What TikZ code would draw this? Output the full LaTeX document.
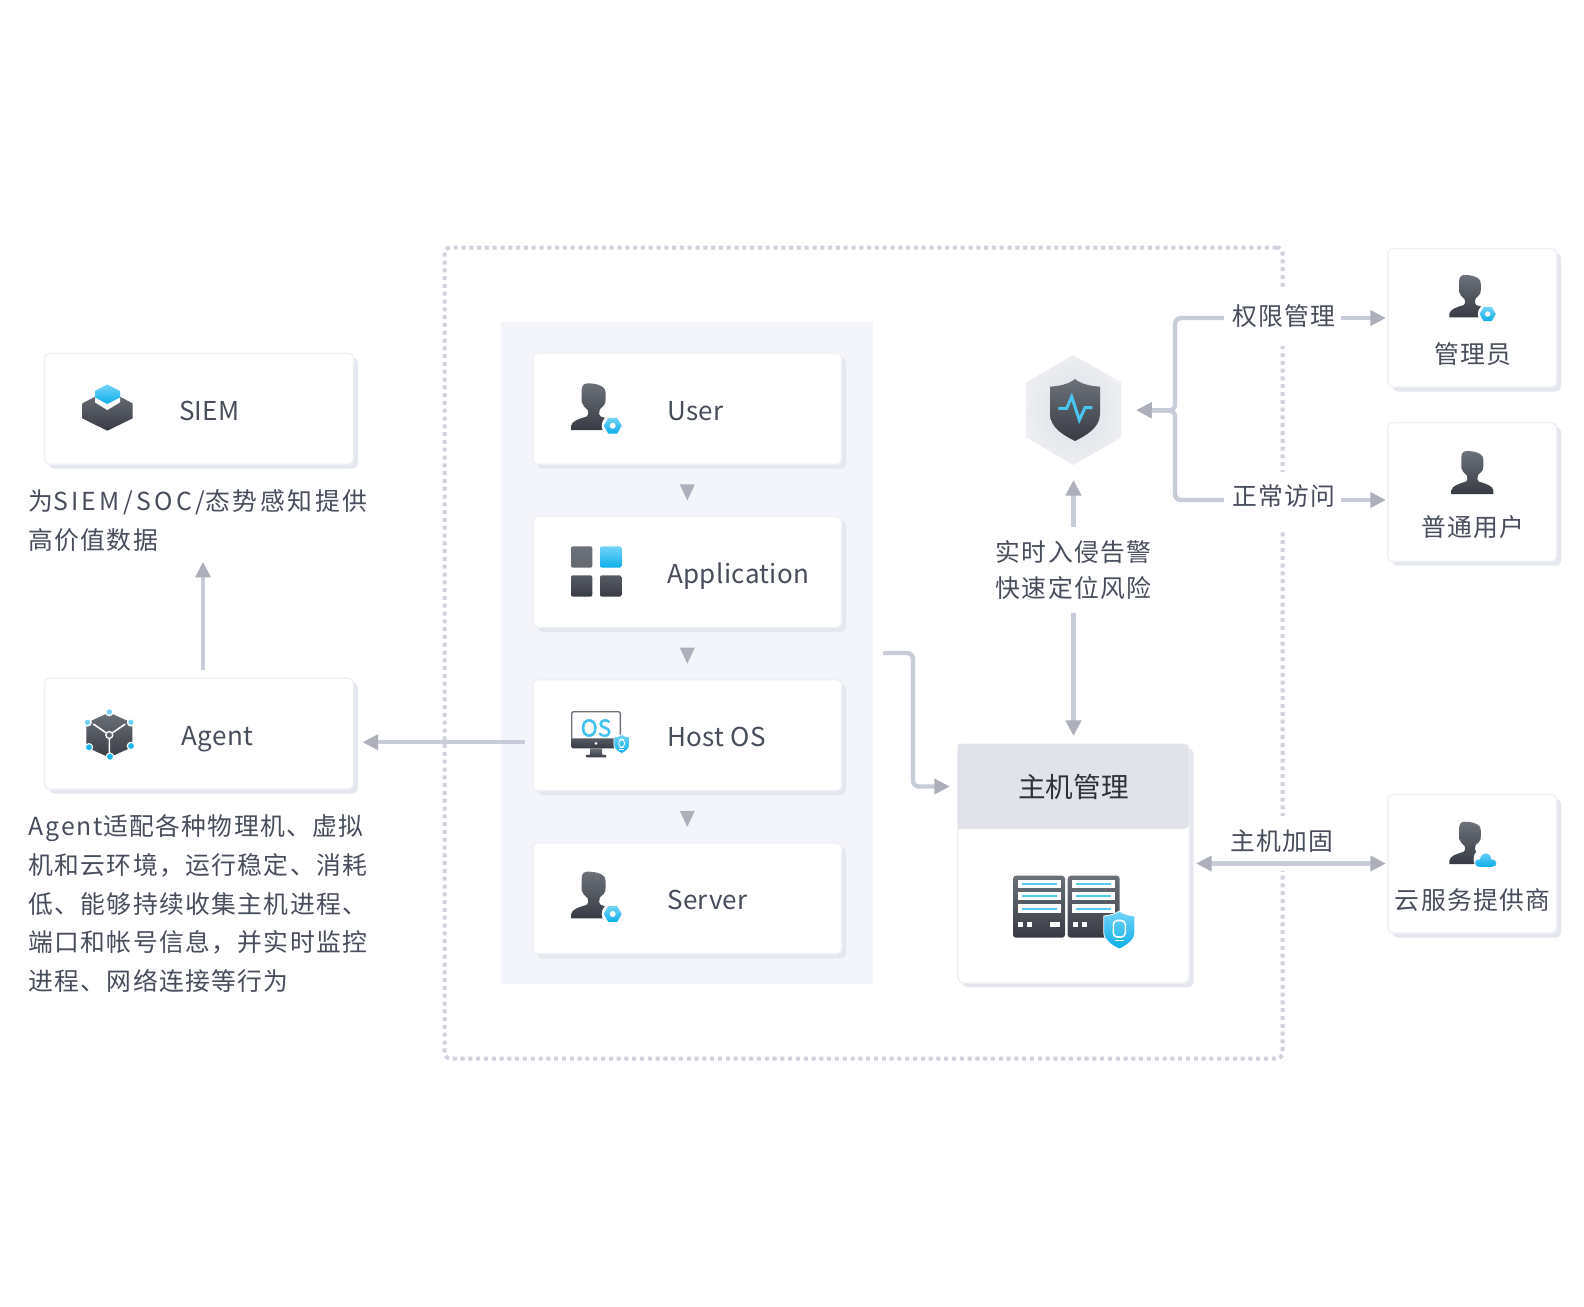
\documentclass[tikz,border=0pt]{standalone}
\usepackage{fontspec}
\setmainfont{Noto Sans CJK SC}
\newfontfamily\spacedfont[LetterSpace=1.5]{Noto Sans CJK SC}
\newfontfamily\bodyfont[LetterSpace=5.5]{Noto Sans CJK SC}
\newfontfamily\agentfont[LetterSpace=8]{Noto Sans CJK SC}
\newfontfamily\siemfont[LetterSpace=13.6]{Noto Sans CJK SC}
\newfontfamily\widecjkfont[LetterSpace=10.5]{Noto Sans CJK SC}
\newfontfamily\osfont[FakeBold=1.6]{Noto Sans CJK SC}
\usetikzlibrary{positioning,arrows.meta,shapes.geometric,shadows}
\definecolor{textdark}{HTML}{484D5C}
\definecolor{textblack}{HTML}{2E3138}
\definecolor{linegray}{HTML}{C8CBD8}
\definecolor{tipgray}{HTML}{ADAFBB}
\definecolor{framegray}{HTML}{D0D2DE}
\definecolor{panelgray}{HTML}{F4F5FA}
\definecolor{cardedge}{HTML}{EFF0F6}
\definecolor{cardshadow}{HTML}{E5E7EF}
\definecolor{headgray}{HTML}{E2E3E9}
\definecolor{hexinner}{HTML}{DDDFE6}
\definecolor{hexouter}{HTML}{EDEEF2}
\definecolor{icontop}{HTML}{6C7179}
\definecolor{iconbot}{HTML}{383B43}
\definecolor{bluetop}{HTML}{72D3F8}
\definecolor{bluebot}{HTML}{0CAFE9}
\tikzset{
  card/.style={draw=cardedge,line width=.7pt,fill=white,rounded corners=2.5pt,outer sep=0pt,inner sep=0pt,
    general shadow={fill=cardshadow,shadow xshift=2.2pt,shadow yshift=-2.2pt}},
  widecard/.style={card,minimum width=154.5pt,minimum height=55.5pt},
  sidecard/.style={card,minimum width=84.4pt,minimum height=69.3pt},
  cardtext/.style={anchor=west,inner sep=0pt,text height=11.5pt,text depth=0pt,text=textdark,font=\fontsize{13}{16}\spacedfont},
  sidetext/.style={inner sep=0pt,text=textdark,font=\fontsize{12.4}{16}\bodyfont},
  infotext/.style={align=left,anchor=west,inner sep=0pt,text=textdark,font=\fontsize{12.4}{19.4}\bodyfont},
  tag/.style={fill=white,inner xsep=4pt,inner ysep=0pt,text=textdark,font=\fontsize{12.4}{16}\bodyfont},
  flow/.style={line width=2.2pt,draw=linegray,-{Triangle[length=7.8pt,width=7.5pt,color=tipgray]}},
  bothflow/.style={flow,{Triangle[length=7.8pt,width=7.5pt,color=tipgray]}-{Triangle[length=7.8pt,width=7.5pt,color=tipgray]}},
  downtri/.style={isosceles triangle,isosceles triangle stretches,shape border rotate=-90,fill=tipgray,
    minimum width=7.5pt,minimum height=8pt,inner sep=0pt,outer sep=0pt},
  darkfill/.style={top color=icontop,bottom color=iconbot,draw=none},
  bluefill/.style={top color=bluetop,bottom color=bluebot,draw=none},
  guardline/.style={line width=.8pt},
  person/.pic={
    \path[darkfill] (-22.7,0) -- (-22.7,4) .. controls (-22,9) and (-15,11) .. (-7,13.5)
      .. controls (-5,14.5) and (-5,17) .. (-6,20) .. controls (-9,23) and (-11.5,25) .. (-12,28)
      -- (-12,40) .. controls (-12,44) and (-10,46.7) .. (-6,46.7) .. controls (0,46.7) and (8,45.5) .. (11,41)
      .. controls (12.5,38) and (12,30) .. (11.5,27) .. controls (10,23) and (6,22) .. (6,20)
      .. controls (5,17) and (5,14.5) .. (7,13.5) .. controls (15,11) and (22,9) .. (22.7,4)
      -- (22.7,0) -- cycle;
  },
  nutbadge/.pic={
    \fill[white] (0,0) circle (11);
    \path[bluefill] (0:9) -- (60:9) -- (120:9) -- (180:9) -- (240:9) -- (300:9) -- cycle;
    \fill[white] (0,0) circle (3);
  },
  cloudbadge/.pic={
    \fill[white] (0,0) circle (12.5);
    \path[bluefill] (-6,-7.5) .. controls (-13,-7.5) and (-12,1) .. (-6,0) .. controls (-5,8) and (5,8) .. (5,0)
      .. controls (12,0) and (12,-7.5) .. (6,-7.5) -- cycle;
  },
  guard/.pic={
    \path[bluefill,draw=white,line width=.4pt] (0,19) .. controls (-4,16) and (-10,14.5) .. (-15.5,14) -- (-15.5,-3)
      .. controls (-15.5,-10) and (-7,-16) .. (0,-19) .. controls (7,-16) and (15.5,-10) .. (15.5,-3)
      -- (15.5,14) .. controls (10,14.5) and (4,16) .. (0,19) -- cycle;
    \draw[white,guardline,rounded corners=2pt] (-6,9.5) rectangle (6,-7);
    \draw[white,guardline] (-4.5,-10.5) -- (4.5,-10.5);
  },
  rack/.pic={
    \path[darkfill,rounded corners=1.5pt] (0,0) rectangle (52,-62);
    \foreach \rowy in {4,16.3,28.7}{
      \fill[white] (4.7,-\rowy) rectangle (47.7,-\rowy-8.3);
      \fill[bluetop!70!bluebot] (8.7,-\rowy-3.2) rectangle (43.7,-\rowy-5.2);
    }
    \fill[white] (5.3,-46.7) rectangle (10.3,-51.7);
    \fill[white] (14,-46.7) rectangle (19,-51.7);
    \fill[white] (37,-46.7) rectangle (47,-51.7);
  },
  siemicon/.pic={
    \path[darkfill] (-25,3.3) -- (-12.3,10) -- (0,16) -- (12.7,10) -- (25.3,3.3) -- (25.3,-11.7) -- (0,-24) -- (-25,-11.7) -- cycle;
    \fill[white] (-12.3,11.7) -- (0,18.3) -- (12.7,11.7) -- (12.7,4.3) -- (0,-3.3) -- (-12.3,4.3) -- cycle;
    \path[bluefill] (0,22.3) -- (12.7,15.7) -- (12.7,9.3) -- (0,2.7) -- (-12.3,9.3) -- (-12.3,15.7) -- cycle;
  },
  agenticon/.pic={
    \path[darkfill] (0,22.5) -- (23,12) -- (23,-12) -- (0,-22.5) -- (-23,-12) -- (-23,12) -- cycle;
    \foreach \dotx/\doty in {0/23,-21.7/12.7,21.7/12.7,-20.3/-12.3,21.7/-11,.7/-21.7}
      \fill[white] (\dotx,\doty) circle (4.3);
    \draw[white,line width=.8pt] (0,0) -- (-16,11) (0,0) -- (16,11) (0,0) -- (0,-18);
    \fill[white] (0,0) circle (4.2);
    \fill[icontop!70!iconbot] (0,0) circle (2.6);
    \foreach \dotx/\doty in {0/23,-21.7/12.7,21.7/12.7}
      \fill[bluetop] (\dotx,\doty) circle (2.7);
    \foreach \dotx/\doty in {-20.3/-12.3,21.7/-11,.7/-21.7}
      \fill[bluebot!85!bluetop] (\dotx,\doty) circle (2.9);
  },
  appicon/.pic={
    \path[top color=icontop,bottom color=icontop!85!iconbot,rounded corners=1pt] (0,0) rectangle (21.3,-21.4);
    \path[bluefill,rounded corners=1pt] (29,0) rectangle (50.3,-21.4);
    \path[top color=icontop!60!iconbot,bottom color=iconbot,rounded corners=1pt] (0,-29) rectangle (21.3,-50.4);
    \path[top color=icontop!60!iconbot,bottom color=iconbot,rounded corners=1pt] (29,-29) rectangle (50.3,-50.4);
  },
  osicon/.pic={
    \draw[icontop,line width=.7pt,rounded corners=1pt] (.7,-.7) rectangle (49.3,-30);
    \path[top color=icontop!55!iconbot,bottom color=iconbot,rounded corners=.8pt] (0,-27.3) rectangle (50,-37.3);
    \fill[white] (25,-32.3) circle (1.5);
    \path[darkfill] (19,-37.3) -- (31,-37.3) -- (31,-43.5) -- (35,-44) -- (35,-46.3) -- (15.7,-46.3) -- (15.7,-44) -- (19,-43.5) -- cycle;
    \node[inner sep=0pt,text=bluetop!50!bluebot,font=\fontsize{11.5}{14}\osfont] (ostext) at (25,-17) {OS};
  }
}
\begin{document}
\begin{tikzpicture}[x=.5pt,y=.5pt]
\useasboundingbox (0,0) rectangle (1584,-1306);
% dotted frame
\node[draw=framegray,dash pattern=on 2pt off 1.9pt,line width=2pt,rounded corners=3pt,minimum width=419pt,minimum height=405.5pt,inner sep=0pt] (frame) at (863.7,-653) {};
% left column
\node[widecard] (siem) at (199,-408.7) {};
\node[cardtext] (siemtext) at ([xshift=67.1pt]siem.west) {SIEM};
\node[widecard] (agent) at (199,-733.6) {};
\node[cardtext] (agenttext) at ([xshift=68.4pt]agent.west) {Agent};
\node[infotext] (siemnote) at (28,-520.5) {为{\siemfont SIEM/SOC/}{\widecjkfont 态势感知提供}\\高价值数据};
\node[infotext] (agentnote) at (28,-903.6) {{\agentfont Agent}适配各种物理机、虚拟\\机和云环境，运行稳定、消耗\\低、能够持续收集主机进程、\\端口和帐号信息，并实时监控\\进程、网络连接等行为};
% middle stack
\node[fill=panelgray,minimum width=186pt,minimum height=331pt,inner sep=0pt,outer sep=0pt] (panel) at (687,-653) {};
\node[widecard] (user) at (687.3,-408.8) {};
\node[widecard,below=26.1pt of user] (app) {};
\node[widecard,below=26.1pt of app] (host) {};
\node[widecard,below=26.1pt of host] (server) {};
\node[cardtext] (usertext) at ([xshift=67pt]user.west) {User};
\node[cardtext] (apptext) at ([xshift=67pt]app.west) {Application};
\node[cardtext] (hosttext) at ([xshift=67pt]host.west) {Host OS};
\node[cardtext] (servertext) at ([xshift=67pt]server.west) {Server};
\path (user.south) -- (app.north) node[midway,downtri,yshift=.6pt] (tria) {};
\path (app.south) -- (host.north) node[midway,downtri,yshift=.6pt] (trib) {};
\path (host.south) -- (server.north) node[midway,downtri,yshift=.6pt] (tric) {};
% host management
\node[card,minimum width=115.6pt,minimum height=119.5pt] (mgmt) at (1073.5,-863.5) {};
\fill[headgray,rounded corners=2.5pt] (mgmt.north west) -- (mgmt.north east) -- ([yshift=-42.5pt]mgmt.north east) [sharp corners] -- ([yshift=-42.5pt]mgmt.north west) -- cycle;
\node[inner sep=0pt,text=textblack,font=\fontsize{13.8}{16}\selectfont] (mgmttitle) at (1073.5,-786.5) {主机管理};
% shield and its notes
\node[regular polygon,regular polygon sides=6,regular polygon rotate=30,minimum size=55pt,inner sep=0pt,outer sep=0pt,inner color=hexinner,outer color=hexouter] (shield) at (1073.5,-410) {};
\node[align=center,inner sep=0pt,minimum height=43pt,text=textdark,font=\fontsize{12.4}{17.6}\bodyfont] (alert) at (1073.5,-570) {实时入侵告警\\快速定位风险};
% right column
\node[sidecard] (admin) at (1472.3,-317.8) {};
\node[sidecard] (normal) at (1472.3,-492) {};
\node[sidecard] (cloud) at (1472.3,-863.8) {};
\node[sidetext] (admintext) at (1472.7,-354) {管理员};
\node[sidetext] (normaltext) at (1472.7,-527) {普通用户};
\node[sidetext] (cloudtext) at (1472.7,-900) {云服务提供商};
\node[tag,minimum height=28.3pt,text height=10pt,text depth=2.6pt] (perm) at (1284,-318) {权限管理};
\node[tag,minimum height=28.5pt,text height=9pt,text depth=4pt] (visit) at (1284,-500) {正常访问};
\node[tag,minimum height=27.5pt,text height=10pt,text depth=3pt] (harden) at (1282,-843) {主机加固};
% connectors
\coordinate (trunk) at (1175,-410.5);
\draw[flow,shorten <=4pt,shorten >=4.5pt] ([yshift=-3.5pt]host.west) -- ([yshift=-3.5pt]host.west -| agent.east);
\draw[flow,shorten >=5pt] ([xshift=2pt,yshift=4pt]agent.north) -- ([xshift=2pt]agent.north |- siemnote.south);
\draw[flow,rounded corners=3pt,shorten <=5pt,shorten >=4pt] (panel.east) -- ++(40,0) |- (mgmttitle.west -| mgmt.west);
\draw[flow,rounded corners=3pt,shorten >=7.5pt] (perm.west) -| (trunk) -- (shield.east);
\draw[flow,rounded corners=3pt,shorten >=7.5pt] (visit.west) -| (trunk) -- (shield.east);
\draw[flow,shorten <=-1.5pt,shorten >=1pt] (perm.east) -- (perm.east -| admin.west);
\draw[flow,shorten <=-1.5pt,shorten >=1pt] (visit.east) -- (visit.east -| normal.west);
\draw[bothflow,shorten <=3.5pt,shorten >=1pt] (mgmt.east) -- (mgmt.east -| cloud.west);
\draw[flow,shorten >=7.5pt] (alert.north) -- (shield.south);
\draw[flow,shorten >=4pt] (alert.south) -- (mgmt.north);
% icons
\pic at (107.3,-406.7) {siemicon};
\pic at (109.3,-735) {agenticon};
\pic at (593.7,-430) {person};
\pic at (612.7,-425.7) {nutbadge};
\pic at (571,-546.3) {appicon};
\pic at (571,-711) {osicon};
\pic[scale=.5,guardline/.style={line width=.4pt}] at (621.7,-744) {guard};
\pic at (593.7,-918.3) {person};
\pic at (612.7,-914) {nutbadge};
\pic at (1013,-875.7) {rack};
\pic at (1067.7,-875.7) {rack};
\pic at (1119.3,-930) {guard};
\path[darkfill] (1075,-379) .. controls (1069,-384) and (1060,-386) .. (1050,-386.7) -- (1050,-414)
  .. controls (1050,-428) and (1065,-436) .. (1075,-441) .. controls (1085,-436) and (1100,-428) .. (1100,-414)
  -- (1100,-386.7) .. controls (1090,-386) and (1081,-384) .. (1075,-379) -- cycle;
\draw[bluetop!60!bluebot,line width=1.5pt] (1058.3,-408.3) -- (1066.7,-408.3) -- (1071.7,-396.7) -- (1079.3,-420) -- (1085,-407.7) -- (1092.3,-407.7);
\pic[scale=.906] at (1470,-317.3) {person};
\pic[scale=.9] at (1487.7,-314) {nutbadge};
\pic[scale=.92] at (1472.4,-494) {person};
\pic[scale=.906] at (1470,-864) {person};
\pic at (1486,-859.3) {cloudbadge};
\end{tikzpicture}
\end{document}
